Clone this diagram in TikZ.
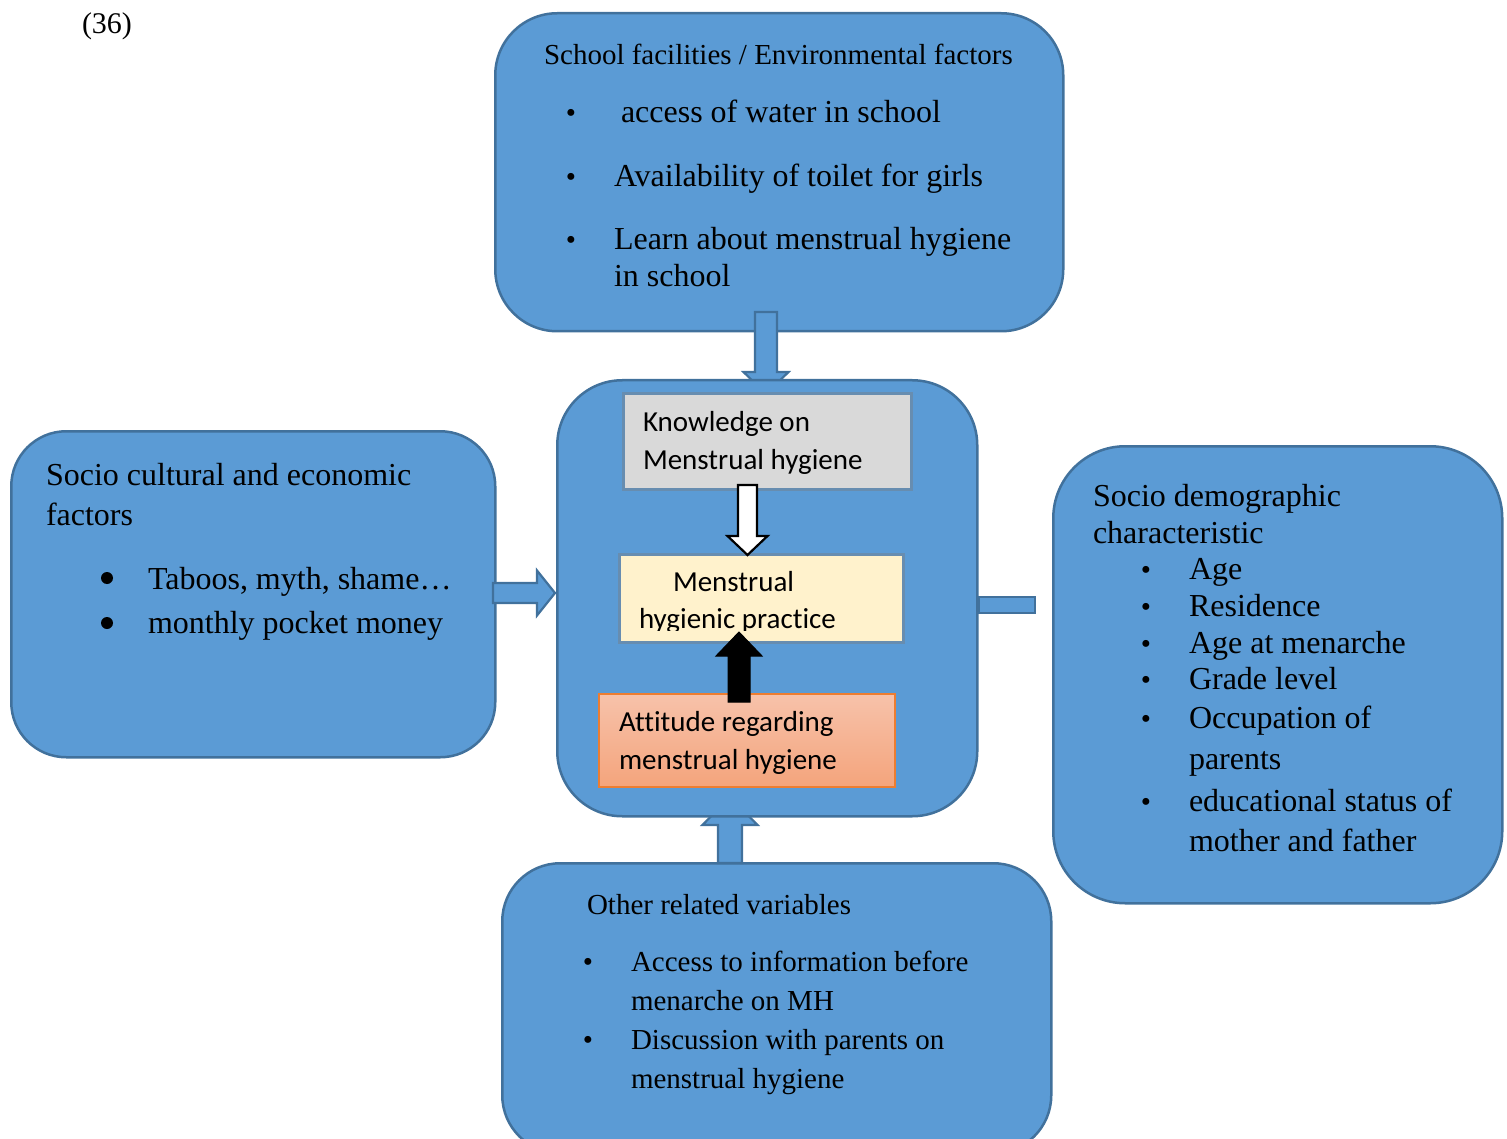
\documentclass[tikz,border=0pt]{standalone}
\usepackage{fontspec}
\setmainfont{Liberation Serif}
\newfontfamily\calibri[Ligatures=NoCommon]{Carlito}
\usetikzlibrary{calc}
\definecolor{mblue}{HTML}{5B9BD5}
\definecolor{mborder}{HTML}{41719C}
\definecolor{kgray}{HTML}{D9D9D9}
\definecolor{pcream}{HTML}{FFF2CC}
\definecolor{aorange}{HTML}{ED7D31}
\definecolor{atop}{HTML}{F7C2AA}
\definecolor{abot}{HTML}{F4A47C}
% vertical block arrow: #1 style, #2 start, #3 tip, #4 half shaft, #5 half head, #6 head length
\newcommand{\vblockarrow}[6]{%
  \draw[#1] let \p1=(#2), \p2=(#3), \n1={sign(\y2-\y1)} in
    (\x1-#4pt,\y1) -- (\x1-#4pt,\y2-\n1*#6pt) -- (\x1-#5pt,\y2-\n1*#6pt) -- (\x2,\y2)
    -- (\x1+#5pt,\y2-\n1*#6pt) -- (\x1+#4pt,\y2-\n1*#6pt) -- (\x1+#4pt,\y1) -- cycle;}
\begin{document}
\begin{tikzpicture}[x=1pt,y=-1pt,
  bigbox/.style={draw=mborder,fill=mblue,line width=2.5pt,rectangle,inner sep=0pt,anchor=north west},
  inbox/.style={rectangle,inner sep=0pt,anchor=north west,line width=2.5pt},
  barrow/.style={draw=mborder,fill=mblue,line width=2.2pt,line join=miter},
  tx/.style={anchor=base west,inner sep=0pt,outer sep=0pt},
  tt/.style={tx,font=\fontsize{32}{38}\selectfont},
  ts/.style={tx,font=\fontsize{29}{35}\selectfont},
  tc/.style={tx,font=\calibri\fontsize{29}{35}\selectfont},
  bulsm/.style={anchor=base,inner sep=0pt,font=\fontsize{29}{35}\selectfont},
]
\useasboundingbox (0,0) rectangle (1507,1139);

% outer boxes
\node[bigbox,rounded corners=62pt,minimum width=568pt,minimum height=318pt] (top) at (494,12) {};
\node[bigbox,rounded corners=55pt,minimum width=484pt,minimum height=326pt] (left) at (10,430) {};
\node[bigbox,rounded corners=72pt,minimum width=449pt,minimum height=457pt] (right) at (1052,445) {};
\node[bigbox,rounded corners=58pt,minimum width=549pt,minimum height=290pt] (bottom) at (501,862) {};

% block arrows to the centre box
\coordinate (a1s) at (766,312);
\coordinate (a1e) at (766,394);
\vblockarrow{barrow}{a1s}{a1e}{11}{22.5}{22}
\coordinate (a2s) at (730,863);
\coordinate (a2e) at (730,797);
\vblockarrow{barrow}{a2s}{a2e}{12}{27.5}{28}
\coordinate (a3s) at (493,593);
\coordinate (a3e) at (555,593);
\draw[barrow] let \p1=(a3s), \p2=(a3e) in
  (\x1,\y1+10pt) -- (\x2-18pt,\y1+10pt) -- (\x2-18pt,\y1+22.5pt) -- (\x2,\y2)
  -- (\x2-18pt,\y1-22.5pt) -- (\x2-18pt,\y1-10pt) -- (\x1,\y1-10pt) -- cycle;

% centre box
\node[bigbox,rounded corners=65pt,minimum width=420pt,minimum height=436pt] (center) at (556,379) {};
\coordinate (a4s) at (center.east |- 605,605);
\coordinate (a4e) at (1035,605);
\draw[barrow] (a4s) ++(0,-8) rectangle ($(a4e)+(0,8)$);

% inner boxes
\node[inbox,draw=mborder!80,fill=kgray,minimum width=288pt,minimum height=96pt] (know) at (622,392) {};
\node[inbox,draw=mborder!80,fill=pcream,minimum width=284pt,minimum height=88pt] (prac) at (618,553) {};
\node[inbox,draw=aorange,line width=2pt,top color=atop,bottom color=abot,minimum width=296pt,minimum height=93pt] (att) at (598,693) {};

% white and black arrows
\coordinate (w1) at (747.5,485);
\coordinate (w2) at (747.5,555);
\vblockarrow{draw=black,fill=white,line width=2.2pt}{w1}{w2}{9.5}{20}{19}
\coordinate (b1) at (739,702);
\coordinate (b2) at (739,632);
\vblockarrow{draw=black,fill=black,line width=1pt}{b1}{b2}{11}{23}{24}

% texts
\node[tx,font=\fontsize{30}{36}\selectfont] (num) at (82,34) {(36)};

\node[ts] (ttitle) at (544,65) {School facilities / Environmental factors};
\node[bulsm] (tb1) at (571,123) {•};
\node[tt] (ti1) at (621,123) {access of water in school};
\node[bulsm] (tb2) at (571,187) {•};
\node[tt] (ti2) at (614,187) {Availability of toilet for girls};
\node[bulsm] (tb3) at (571,250) {•};
\node[tt] (ti3) at (614,250) {Learn about menstrual hygiene};
\node[tt] (ti4) at (614,287) {in school};

\node[tt] (ltitle1) at (46,485) {Socio cultural and economic};
\node[tt] (ltitle2) at (46,525) {factors};
\fill (107,578) circle (6pt);
\node[tt] (li1) at (148,589) {Taboos, myth, shame…};
\fill (107,623) circle (6pt);
\node[tt] (li2) at (148,633) {monthly pocket money};

\node[tt] (rtitle1) at (1093,506) {Socio demographic};
\node[tt] (rtitle2) at (1093,543) {characteristic};
\foreach \yy/\txt [count=\k] in {579/Age,616/Residence,653/Age at menarche,689/Grade level,728/Occupation of,811/educational status of}{
  \node[bulsm] (rb\k) at (1146,\yy) {•};
  \node[tt] (ri\k) at (1189,\yy) {\txt};
}
\node[tt] (ri7) at (1189,769) {parents};
\node[tt] (ri8) at (1189,851) {mother and father};

\node[ts] (btitle) at (587,914) {Other related variables};
\node[bulsm] (bb1) at (588,971) {•};
\node[ts] (bi1) at (631,971) {Access to information before};
\node[ts] (bi2) at (631,1010) {menarche on MH};
\node[bulsm] (bb2) at (588,1049) {•};
\node[ts] (bi3) at (631,1049) {Discussion with parents on};
\node[ts] (bi4) at (631,1088) {menstrual hygiene};

\node[tc] (k1) at (643,431) {Knowledge on};
\node[tc] (k2) at (643,469) {Menstrual hygiene};
\node[tc] (p1) at (673,591) {Menstrual};
\begin{scope}
  \clip (618,553) rectangle (902,630);
  \node[tc] (p2) at (639,628) {hygienic practice};
\end{scope}
\node[tc] (at1) at (619,731) {Attitude regarding};
\node[tc] (at2) at (619,769) {menstrual hygiene};
\end{tikzpicture}
\end{document}
